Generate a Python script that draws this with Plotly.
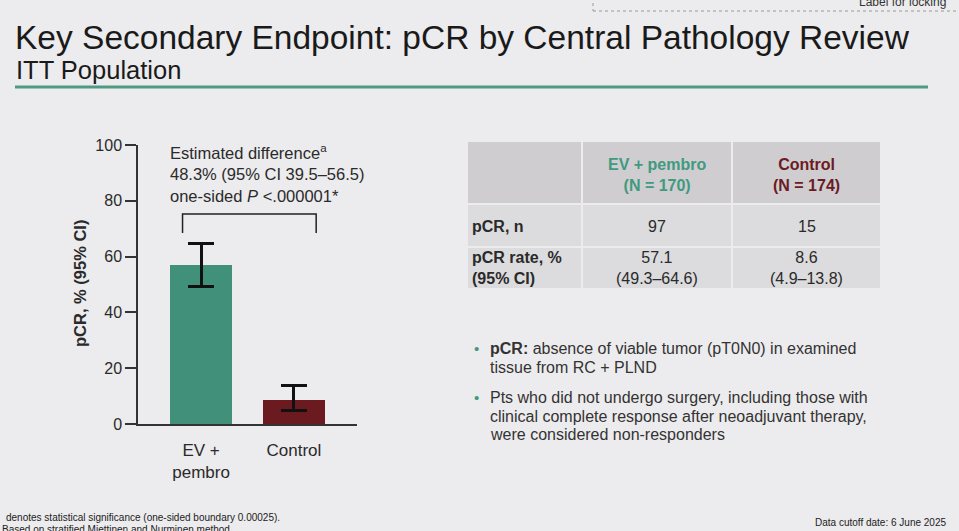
import plotly.graph_objects as go

# bar chart data
arms = ["EV +<br>pembro", "Control"]
pcr_rate = [57.1, 8.6]
ci_low = [49.3, 4.9]
ci_high = [64.6, 13.8]
arm_colors = ["#41907a", "#6b1b20"]

# table data
tbl_header = ["", "EV + pembro<br>(N = 170)", "Control<br>(N = 174)"]
tbl_rows = ["pCR, n", "pCR rate, %<br>(95% CI)"]
tbl_ev = ["97", "57.1<br>(49.3–64.6)"]
tbl_ctrl = ["15", "8.6<br>(4.9–13.8)"]

BG = "#ecebed"
TEAL = "#3f9a80"
MAROON = "#6b1b24"
TXT = "#2a2a2a"
W, H = 959, 531
FONT = "Arial, Liberation Sans, sans-serif"

# table geometry (px)
TX0, TY0 = 467, 141
col_w = [115, 150, 149]
head_h = 63
row_h = 42.5


def px(x):
    return x / W


def py(y):
    return 1 - y / H


fig = go.Figure()

fig.add_trace(go.Bar(
    x=[0, 1], y=pcr_rate,
    width=0.67,
    marker=dict(color=arm_colors, line=dict(width=0)),
    error_y=dict(
        type="data", symmetric=False,
        array=[h - v for h, v in zip(ci_high, pcr_rate)],
        arrayminus=[v - l for l, v in zip(ci_low, pcr_rate)],
        color="#111111", thickness=3, width=13,
    ),
    hoverinfo="skip", showlegend=False,
))

# table grid (fills); text is laid over it so that two-line cells centre properly
fig.add_trace(go.Table(
    domain=dict(x=[px(TX0), px(TX0 + sum(col_w))],
                y=[py(TY0 + head_h + 2 * row_h), py(TY0)]),
    columnwidth=col_w,
    header=dict(values=[""] * 3, fill_color="#cfcdd0",
                line=dict(color=BG, width=2), height=head_h,
                font=dict(size=16, color=TXT)),
    cells=dict(values=[[""] * 2] * 3, fill_color="#dcdbdd",
               line=dict(color=BG, width=2), height=row_h,
               font=dict(size=16, color=TXT)),
    hoverinfo="skip",
))

# comparison bracket
fig.add_shape(type="path", xref="x", yref="y",
              path="M -0.2,68.5 L -0.2,75.3 L 1.24,75.3 L 1.24,68.5",
              line=dict(color="#222222", width=1.5))

ann = []


def note(x, y, text, size, color=TXT, xanchor="left", family=FONT, **kw):
    ann.append(dict(x=px(x), y=py(y), xref="paper", yref="paper", xanchor=xanchor,
                    yanchor="middle", showarrow=False, text=text,
                    font=dict(family=family, size=size, color=color), **kw))


# table text
col_cx = [TX0 + col_w[0] / 2, TX0 + col_w[0] + col_w[1] / 2,
          TX0 + col_w[0] + col_w[1] + col_w[2] / 2]
head_colors = [TXT, TEAL, MAROON]
for i in (1, 2):
    note(col_cx[i], 175, "<b>" + tbl_header[i] + "</b>", 16, head_colors[i],
         xanchor="center", align="center")
row_y = [226, 268]
for j, yy in enumerate(row_y):
    note(TX0 + 3, yy, "<b>" + tbl_rows[j] + "</b>", 16, align="left")
    note(col_cx[1], yy, tbl_ev[j], 16, xanchor="center", align="center")
    note(col_cx[2], yy, tbl_ctrl[j], 16, xanchor="center", align="center")

note(168, 173, "Estimated difference<sup>a</sup><br>48.3% (95% CI 39.5–56.5)<br>"
     "one-sided <i>P</i> <.000001*", 16.5, align="left")
note(80, 284, "<b>pCR, % (95% CI)</b>", 16.5, xanchor="center", textangle=-90)

note(13, 37, "Key Secondary Endpoint: pCR by Central Pathology Review", 33.5, "#1a1a1a")
note(14, 70, "ITT Population", 25.5, "#1a1a1a")
note(948, 2, "Label for locking", 12, "#333333", xanchor="right")

bullet_lines = [
    (348, "<b>pCR:</b> absence of viable tumor (pT0N0) in examined"),
    (367, "tissue from RC + PLND"),
    (397, "Pts who did not undergo surgery, including those with"),
    (416, "clinical complete response after neoadjuvant therapy,"),
    (434, "were considered non-responders"),
]
for yy, t in bullet_lines:
    note(488, yy, t, 16, "#333333")
for yy in [348, 397]:
    note(476, yy, "•", 15, TEAL, xanchor="center")

note(4, 517, "denotes statistical significance (one-sided boundary 0.00025).", 10, "#222222")
note(0, 529, "Based on stratified Miettinen and Nurminen method", 10, "#222222")
note(948, 522, "Data cutoff date: 6 June 2025", 10, "#222222", xanchor="right")

fig.add_shape(type="line", xref="paper", yref="paper", x0=px(15), x1=px(928),
              y0=py(87), y1=py(87), line=dict(color="#4e9a84", width=3))
fig.add_shape(type="rect", xref="paper", yref="paper", x0=px(593), x1=px(962),
              y0=py(11), y1=py(-5), line=dict(color="#9a9a9a", width=1, dash="dot"))

fig.update_layout(
    width=W, height=H,
    margin=dict(l=0, r=0, t=0, b=0, autoexpand=False),
    paper_bgcolor=BG, plot_bgcolor=BG,
    font=dict(family=FONT, color=TXT),
    annotations=ann,
    xaxis=dict(domain=[px(138), px(357)], range=[-0.68, 1.68],
               tickvals=[0, 1], ticktext=arms, ticks="", showgrid=False,
               zeroline=False, showline=True, linecolor="#333333", linewidth=1.5,
               tickfont=dict(size=17, color=TXT), ticklabelstandoff=10, fixedrange=True),
    yaxis=dict(domain=[py(424), py(145)], range=[0, 100], tickvals=[0, 20, 40, 60, 80, 100],
               ticks="outside", ticklen=11, tickwidth=1.5, tickcolor="#333333",
               showgrid=False, zeroline=False, showline=True, linecolor="#333333",
               linewidth=1.5, tickfont=dict(size=16, color=TXT), fixedrange=True),
    bargap=0,
)

fig.write_html("out.html", config={"displayModeBar": False},
               post_script="document.body.style.margin='0px';")
